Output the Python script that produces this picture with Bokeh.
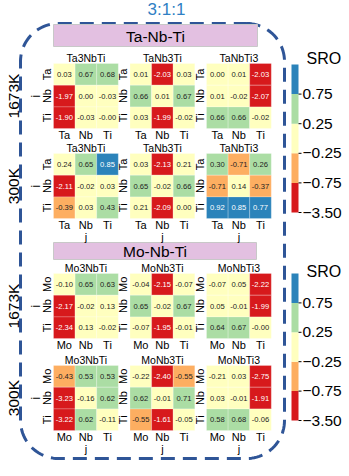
import numpy as np
from bokeh.plotting import figure
from bokeh.models import ColumnDataSource, Range1d
from bokeh.core.properties import value
from bokeh.embed import file_html
from bokeh.resources import INLINE

# ---------------- data ----------------
ratio_label = "3:1:1"
system_names = ["Ta-Nb-Ti", "Mo-Nb-Ti"]
elements = [["Ta", "Nb", "Ti"], ["Mo", "Nb", "Ti"]]
compositions = [["Ta3NbTi", "TaNb3Ti", "TaNbTi3"], ["Mo3NbTi", "MoNb3Ti", "MoNbTi3"]]
temperatures = ["1673K", "300K"]

# SRO matrices: [composition][row i][column j]
ta_1673K = [
    [[0.03, 0.67, 0.68], [-1.97, 0.00, -0.03], [-1.90, -0.03, -0.0]],
    [[0.01, -2.03, 0.03], [0.66, 0.01, 0.67], [0.03, -1.99, -0.02]],
    [[0.00, 0.01, -2.03], [0.01, -0.02, -2.07], [0.66, 0.66, -0.02]],
]
ta_300K = [
    [[0.24, 0.65, 0.85], [-2.11, -0.02, 0.03], [-0.39, 0.03, 0.43]],
    [[0.03, -2.13, 0.21], [0.65, -0.02, 0.66], [0.21, -2.09, 0.00]],
    [[0.30, -0.71, 0.26], [-0.71, 0.14, -0.37], [0.92, 0.85, 0.77]],
]
mo_1673K = [
    [[-0.10, 0.65, 0.63], [-2.17, -0.02, 0.13], [-2.34, 0.13, -0.02]],
    [[-0.04, -2.15, -0.07], [0.65, -0.02, 0.67], [-0.07, -1.95, -0.01]],
    [[-0.07, 0.05, -2.22], [0.05, -0.01, -1.99], [0.64, 0.67, -0.0]],
]
mo_300K = [
    [[-0.43, 0.53, 0.53], [-3.23, -0.16, 0.62], [-3.22, 0.62, -0.11]],
    [[-0.22, -2.40, -0.55], [0.62, -0.01, 0.71], [-0.55, -1.61, -0.05]],
    [[-0.21, 0.03, -2.75], [0.03, -0.01, -1.91], [0.58, 0.68, -0.06]],
]
sro_blocks = [[ta_1673K, ta_300K], [mo_1673K, mo_300K]]

cb_bounds = [-3.50, -0.75, -0.25, 0.25, 0.75]
cb_colors = ["#d7191c", "#fdae61", "#ffffbf", "#abdda4", "#2b83ba"]
cb_title = "SRO"

# ---------------- layout (page px) ----------------
W, H, OFF = 349, 476, 0
FONT = "Liberation Sans"
PANEL_X = [53, 129.5, 206]
PANEL_Y = [[63, 153], [273, 365]]
CW, CH = 21.6, 21.7
HEADERS = [(53, 24, 257, 46), (53, 242, 256, 259)]
CB_X = (291, 298)
CB_Y = [(64, 212), (273, 420)]
SRO_Y = [58, 271]
BORDER = (20, 23, 284, 458, 38)


def px(v):
    return v - OFF


def color_of(v):
    k = int(np.searchsorted(cb_bounds, v, side="right")) - 1
    return cb_colors[min(max(k, 0), 4)]


p = figure(width=W, height=H, x_range=Range1d(0, W), y_range=Range1d(H, 0),
           output_backend="svg", toolbar_location=None, min_border=0)
p.xaxis.visible = False
p.yaxis.visible = False
p.grid.visible = False
p.outline_line_color = None
p.background_fill_color = "white"

# dashed rounded border
l, t, r_, b, rad = BORDER
bx, by = [], []
for cx, cy, a0, a1 in [(r_ - rad, t + rad, -np.pi / 2, 0), (r_ - rad, b - rad, 0, np.pi / 2),
                       (l + rad, b - rad, np.pi / 2, np.pi), (l + rad, t + rad, np.pi, 1.5 * np.pi)]:
    a = np.linspace(a0, a1, 24)
    bx += list(px(cx + rad * np.cos(a)))
    by += list(px(cy + rad * np.sin(a)))
bx.append(bx[0]); by.append(by[0])
p.line(bx, by, line_color="#2f5597", line_width=3, line_dash="14 8")

# ratio title
p.text(x=[px(166)], y=[px(9)], text=[ratio_label], text_font=value(FONT), text_font_size="17px",
       text_color="#2f80c4", text_align="center", text_baseline="middle")

# headers
for s, (x0, y0, x1, y1) in enumerate(HEADERS):
    p.quad(left=[px(x0)], right=[px(x1)], top=[px(y0)], bottom=[px(y1)],
           fill_color="#e3c0e1", line_color="#c8c8c8", line_width=1)
    p.text(x=[px((x0 + x1) / 2)], y=[px((y0 + y1) / 2 + 0.5)], text=[system_names[s]],
           text_font=value(FONT), text_font_size="15.5px", text_color="black",
           text_align="center", text_baseline="middle")

cells = dict(x=[], y=[], color=[], label=[], tcolor=[])
titles = dict(x=[], y=[], text=[])
xt = dict(x=[], y=[], text=[])
yt = dict(x=[], y=[], text=[])
jl = dict(x=[], y=[])
il = dict(x=[], y=[])
rowlab = dict(x=[], y=[], text=[])

for s in range(2):
    for tt in range(2):
        top = PANEL_Y[s][tt]
        bottom = top + 3 * CH
        rowlab["x"].append(px(13)); rowlab["y"].append(px(top + 1.5 * CH)); rowlab["text"].append(temperatures[tt])
        il["x"].append(px(35)); il["y"].append(px(top + 1.5 * CH))
        for c in range(3):
            x0 = PANEL_X[c]
            mat = sro_blocks[s][tt][c]
            titles["x"].append(px(x0 + 1.5 * CW)); titles["y"].append(px(top - 6)); titles["text"].append(compositions[s][c])
            for i in range(3):
                yt["x"].append(px(x0 - 7)); yt["y"].append(px(top + (i + 0.5) * CH)); yt["text"].append(elements[s][i])
                for j in range(3):
                    v = mat[i][j]
                    col = color_of(v)
                    cells["x"].append(px(x0 + (j + 0.5) * CW))
                    cells["y"].append(px(top + (i + 0.5) * CH))
                    cells["color"].append(col)
                    cells["label"].append(f"{v:.2f}")
                    cells["tcolor"].append("white" if col in (cb_colors[0], cb_colors[4]) else "#222222")
            for j in range(3):
                xt["x"].append(px(x0 + (j + 0.5) * CW)); xt["y"].append(px(bottom + 6)); xt["text"].append(elements[s][j])
            if tt == 1:
                jl["x"].append(px(x0 + 1.5 * CW)); jl["y"].append(px(bottom + 18))

src = ColumnDataSource(cells)
p.rect(x="x", y="y", width=CW, height=CH, fill_color="color", line_color="white", line_alpha=0.4,
       line_width=0.6, source=src)
p.text(x="x", y="y", text="label", text_color="tcolor", text_font=value(FONT), text_font_size="7.6px",
       text_align="center", text_baseline="middle", source=src)

p.text(x="x", y="y", text="text", source=ColumnDataSource(titles), text_font=value(FONT),
       text_font_size="10.5px", text_align="center", text_baseline="middle", text_color="black")
p.text(x="x", y="y", text="text", source=ColumnDataSource(xt), text_font=value(FONT),
       text_font_size="11px", text_align="center", text_baseline="middle", text_color="black")
p.text(x="x", y="y", text="text", source=ColumnDataSource(yt), text_font=value(FONT), angle=np.pi / 2,
       text_font_size="11px", text_align="center", text_baseline="middle", text_color="black")
p.text(x=jl["x"], y=jl["y"], text=["j"] * len(jl["x"]), text_font=value(FONT),
       text_font_size="11px", text_align="center", text_baseline="middle", text_color="black")
p.text(x=il["x"], y=il["y"], text=["i"] * len(il["x"]), text_font=value(FONT), angle=np.pi / 2,
       text_font_size="12px", text_align="center", text_baseline="middle", text_color="black")
p.text(x="x", y="y", text="text", source=ColumnDataSource(rowlab), text_font=value(FONT), angle=np.pi / 2,
       text_font_size="15.5px", text_align="center", text_baseline="middle", text_color="black")

# colorbars
for s in range(2):
    y0, y1 = CB_Y[s]
    sh = (y1 - y0) / len(cb_colors)
    p.quad(left=[px(CB_X[0])] * 5, right=[px(CB_X[1])] * 5,
           top=[px(y1 - (k + 1) * sh) for k in range(5)], bottom=[px(y1 - k * sh) for k in range(5)],
           fill_color=cb_colors, line_color=None)
    ty = [px(y1 - k * sh) for k in range(5)]
    p.segment(x0=[px(CB_X[1])] * 5, x1=[px(CB_X[1] + 3)] * 5, y0=ty, y1=ty, line_color="black", line_width=1)
    p.text(x=[px(302)] * 5, y=ty, text=[f"{v:.2f}".replace("-", "\u2212") for v in cb_bounds],
           text_font=value(FONT), text_font_size="15.5px", text_align="left", text_baseline="middle",
           text_color="black")
    p.text(x=[px(306)], y=[px(SRO_Y[s])], text=[cb_title], text_font=value(FONT), text_font_size="16px",
           text_align="left", text_baseline="middle", text_color="black")

open("out.html", "w").write(file_html(p, INLINE))
